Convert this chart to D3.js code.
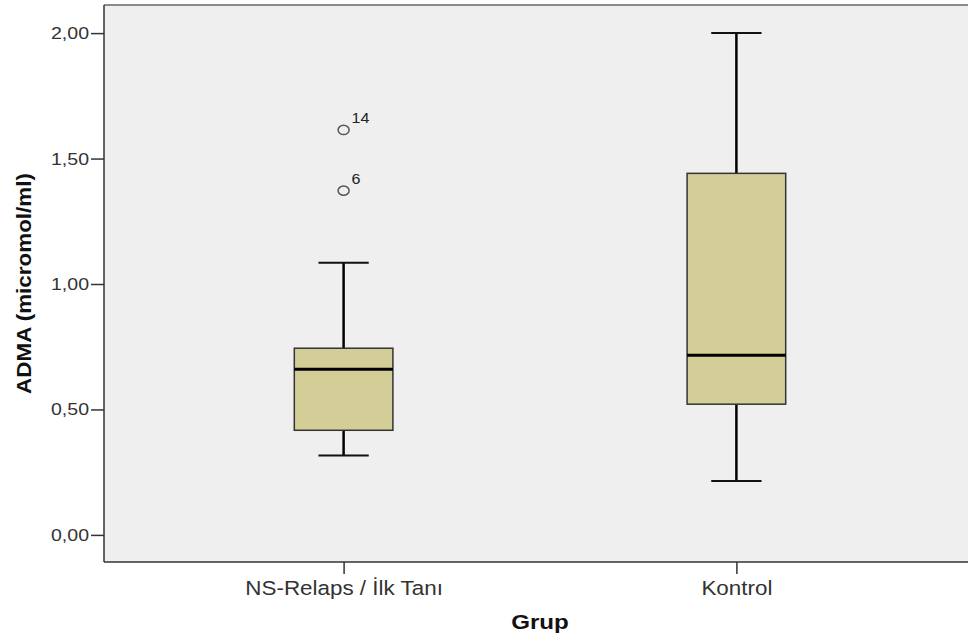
<!DOCTYPE html>
<html>
<head>
<meta charset="utf-8">
<script src="https://cdn.jsdelivr.net/npm/d3@7"></script>
<style>
  body { margin: 0; background: #fff; }
  text { font-family: "Liberation Sans", Arial, sans-serif; }
</style>
</head>
<body>
<script>
// data
var categories = ["NS-Relaps / İlk Tanı", "Kontrol"];
var whiskerLow  = [0.316, 0.215];
var q1          = [0.417, 0.521];
var medians     = [0.660, 0.716];
var q3          = [0.744, 1.441];
var whiskerHigh = [1.085, 2.000];
var outlierGroup = [0, 0];
var outlierValue = [1.614, 1.372];
var outlierLabel = ["14", "6"];
var yTicks = [0, 0.5, 1, 1.5, 2];

var width = 968, height = 642;
var plot = {left: 104, top: 5, right: 976, bottom: 562};
var sx = 1.15; // text in the original is a bit wide

var svg = d3.select("body").append("svg")
    .attr("width", width)
    .attr("height", height);

var x = d3.scalePoint()
    .domain(categories)
    .range([plot.left, plot.right])
    .padding(0.61);

var y = d3.scaleLinear()
    .domain([-0.108, 2.112])
    .range([plot.bottom, plot.top]);

var boxW = x.step() * 0.251, capW = x.step() * 0.128;

// plot background and frame
svg.append("rect")
    .attr("x", plot.left).attr("y", plot.top)
    .attr("width", plot.right - plot.left)
    .attr("height", plot.bottom - plot.top)
    .attr("fill", "#efefef");
svg.append("line")
    .attr("x1", plot.left).attr("x2", plot.right)
    .attr("y1", plot.top).attr("y2", plot.top)
    .attr("stroke", "#8a8a8a").attr("stroke-width", 2);

// stretch a text horizontally around its anchor
function stretch(sel) {
  sel.each(function () {
    var t = d3.select(this);
    var tx = +t.attr("x") || 0, ty = +t.attr("y") || 0;
    t.attr("x", 0).attr("y", 0)
     .attr("transform", "translate(" + tx + "," + ty + ") scale(" + sx + ",1)");
  });
}

// y axis
var yAxis = svg.append("g")
    .attr("transform", "translate(" + plot.left + ",0)")
    .call(d3.axisLeft(y)
        .tickValues(yTicks)
        .tickSize(13)
        .tickPadding(2)
        .tickFormat(function (d) { return d3.format(".2f")(d).replace(".", ","); }));
yAxis.select(".domain").remove();
yAxis.selectAll(".tick line").attr("stroke", "#333").attr("stroke-width", 1.5);
yAxis.selectAll(".tick text")
    .attr("fill", "#333")
    .style("font-size", "17px")
    .call(stretch);

// x axis
var xAxis = svg.append("g")
    .attr("transform", "translate(0," + plot.bottom + ")")
    .call(d3.axisBottom(x).tickSize(12).tickPadding(7));
xAxis.select(".domain").remove();
xAxis.selectAll(".tick line").attr("stroke", "#333").attr("stroke-width", 1.5);
xAxis.selectAll(".tick text")
    .attr("fill", "#333")
    .style("font-size", "19.5px")
    .call(stretch);

// frame left + bottom
svg.append("line")
    .attr("x1", plot.left).attr("x2", plot.left)
    .attr("y1", plot.top).attr("y2", plot.bottom)
    .attr("stroke", "#333").attr("stroke-width", 1.5);
svg.append("line")
    .attr("x1", plot.left).attr("x2", plot.right)
    .attr("y1", plot.bottom).attr("y2", plot.bottom)
    .attr("stroke", "#333").attr("stroke-width", 1.5);

// boxes
var boxes = svg.selectAll(".box")
    .data(categories)
    .enter().append("g")
    .attr("class", "box");

boxes.append("line") // whisker
    .attr("x1", function (d) { return x(d); })
    .attr("x2", function (d) { return x(d); })
    .attr("y1", function (d, i) { return y(whiskerLow[i]); })
    .attr("y2", function (d, i) { return y(whiskerHigh[i]); })
    .attr("stroke", "#000").attr("stroke-width", 2.5);

[whiskerLow, whiskerHigh].forEach(function (arr) {
  boxes.append("line") // caps
      .attr("x1", function (d) { return x(d) - capW / 2; })
      .attr("x2", function (d) { return x(d) + capW / 2; })
      .attr("y1", function (d, i) { return y(arr[i]); })
      .attr("y2", function (d, i) { return y(arr[i]); })
      .attr("stroke", "#111").attr("stroke-width", 2);
});

boxes.append("rect")
    .attr("x", function (d) { return x(d) - boxW / 2; })
    .attr("y", function (d, i) { return y(q3[i]); })
    .attr("width", boxW)
    .attr("height", function (d, i) { return y(q1[i]) - y(q3[i]); })
    .attr("fill", "#d3ce98")
    .attr("stroke", "#333").attr("stroke-width", 1.5);

boxes.append("line") // median
    .attr("x1", function (d) { return x(d) - boxW / 2; })
    .attr("x2", function (d) { return x(d) + boxW / 2; })
    .attr("y1", function (d, i) { return y(medians[i]); })
    .attr("y2", function (d, i) { return y(medians[i]); })
    .attr("stroke", "#000").attr("stroke-width", 3);

// outliers
var outs = svg.selectAll(".outlier")
    .data(outlierValue)
    .enter().append("g")
    .attr("class", "outlier");

outs.append("ellipse")
    .attr("cx", function (d, i) { return x(categories[outlierGroup[i]]); })
    .attr("cy", function (d) { return y(d); })
    .attr("rx", 5.5).attr("ry", 4.6)
    .attr("fill", "none")
    .attr("stroke", "#555").attr("stroke-width", 1.5);

outs.append("text")
    .attr("x", function (d, i) { return x(categories[outlierGroup[i]]) + 8; })
    .attr("y", function (d) { return y(d) - 7; })
    .attr("fill", "#222")
    .style("font-size", "14px")
    .text(function (d, i) { return outlierLabel[i]; })
    .call(stretch);

// axis titles
svg.append("text")
    .attr("transform", "translate(" + (plot.left + plot.right) / 2 + ",629) scale(" + sx + ",1)")
    .attr("text-anchor", "middle")
    .style("font-size", "21px")
    .style("font-weight", "bold")
    .attr("fill", "#111")
    .text("Grup");

svg.append("text")
    .attr("transform", "translate(31," + (plot.top + plot.bottom) / 2 + ") rotate(-90) scale(" + sx + ",1)")
    .attr("text-anchor", "middle")
    .style("font-size", "19.5px")
    .style("font-weight", "bold")
    .attr("fill", "#111")
    .text("ADMA (micromol/ml)");
</script>
</body>
</html>
